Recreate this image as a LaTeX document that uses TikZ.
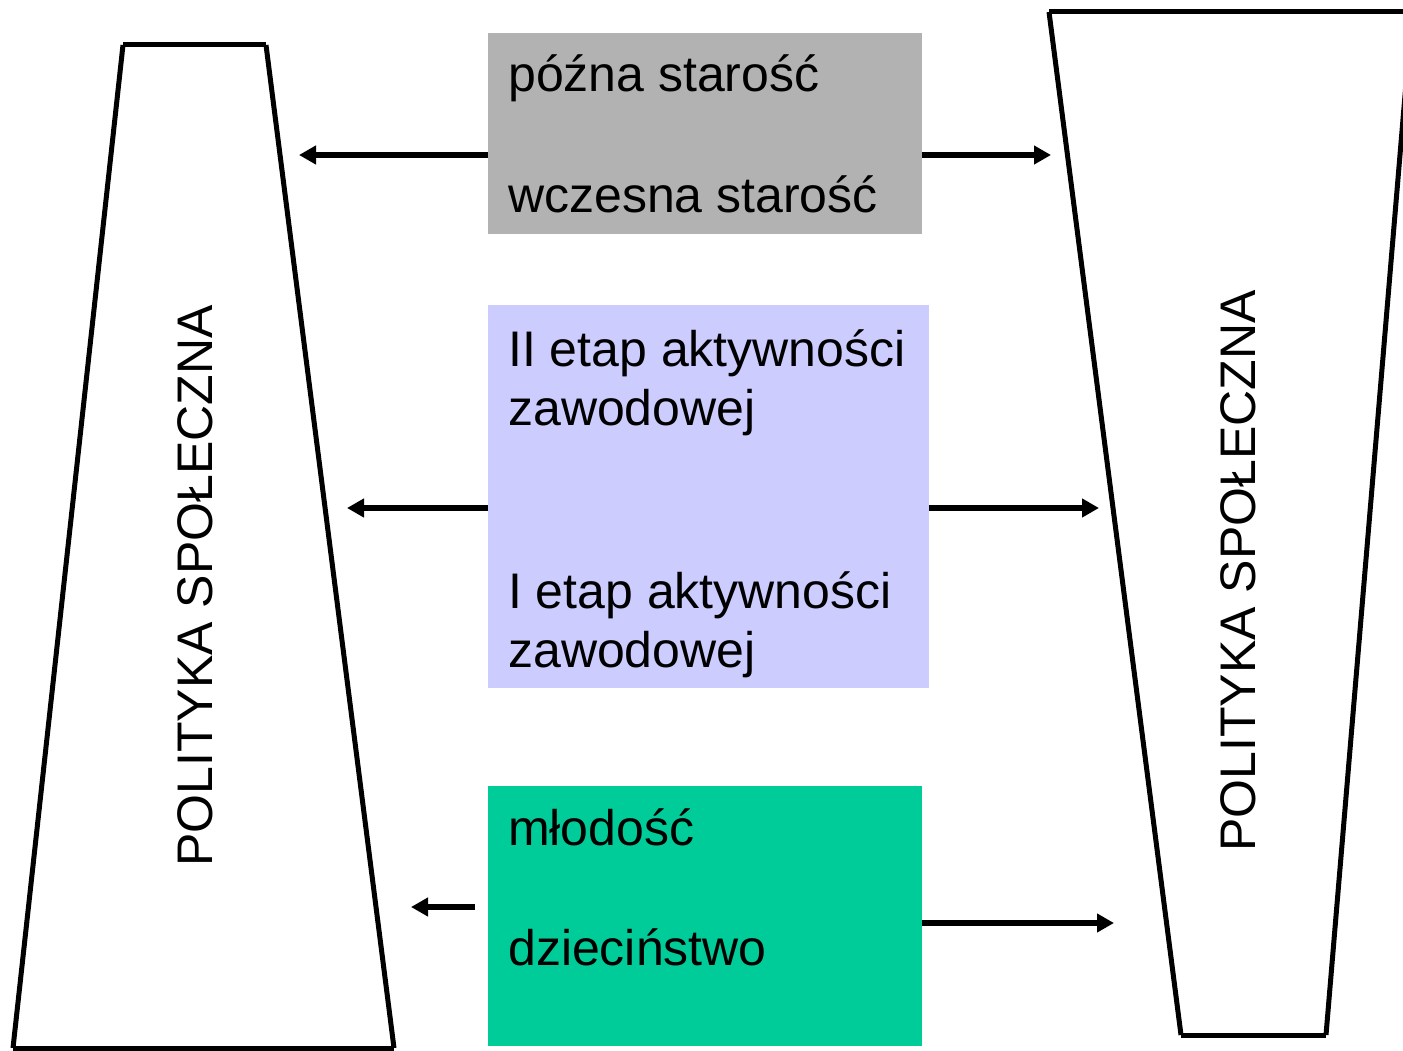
\documentclass[tikz,border=0pt]{standalone}
\usepackage{fontspec}
\setmainfont{Liberation Sans}
\usetikzlibrary{arrows.meta}
\definecolor{boxgray}{HTML}{B2B2B2}
\definecolor{boxlav}{HTML}{CCCCFF}
\definecolor{boxgreen}{HTML}{00CC99}
\begin{document}
\begin{tikzpicture}[x=1pt,y=-1pt,
  box/.style={anchor=north west,inner sep=0pt,outer sep=0pt},
  lbl/.style={anchor=base west,inner sep=0pt,font=\fontsize{50}{59}\selectfont},
  vlbl/.style={inner sep=0pt,rotate=90,font=\fontsize{50}{59}\selectfont},
  arr/.style={line width=5.5pt,-{Triangle[length=17pt,width=18pt]}},
  edge/.style={line width=5pt}]
\useasboundingbox (0,0) rectangle (1403,1051);
\clip (0,0) rectangle (1403,1051);
% boxes
\node[box,fill=boxgray,minimum width=434pt,minimum height=201pt] (gray) at (488,33) {};
\node[box,fill=boxlav,minimum width=441pt,minimum height=383pt] (lav) at (488,305) {};
\node[box,fill=boxgreen,minimum width=434pt,minimum height=260pt] (green) at (488,786) {};
% texts
\node[lbl] (t1) at (508,92) {późna starość};
\node[lbl] (t2) at (508,213) {wczesna starość};
\node[lbl,align=left,anchor=base west] (t3) at (508,366) {II etap aktywności};
\node[lbl] (t3b) at (508,425) {zawodowej};
\node[lbl] (t4) at (508,608) {I etap aktywności};
\node[lbl] (t4b) at (508,667) {zawodowej};
\node[lbl] (t5) at (508,845) {młodość};
\node[lbl] (t6) at (508,965) {dzieciństwo};
% left trapezoid
\coordinate (la) at (123,45);
\coordinate (lb) at (266,45);
\coordinate (lc) at (394,1048);
\coordinate (ld) at (13,1048);
\draw[edge] (la) -- (lb);
\draw[edge] (lb) -- (lc);
\draw[edge] (lc) -- (ld);
\draw[edge] (ld) -- (la);
% right trapezoid
\coordinate (ra) at (1049,12);
\coordinate (rb) at (1420,12);
\coordinate (rbb) at (1412,12);
\coordinate (rc) at (1326,1035);
\coordinate (rd) at (1181,1035);
\draw[edge] (ra) -- (rb);
\draw[edge] (rbb) -- (rc);
\draw[edge] (rc) -- (rd);
\draw[edge] (rd) -- (ra);
% vertical labels
\node[vlbl] (pl) at (195,586) {POLITYKA SPOŁECZNA};
\node[vlbl] (pr) at (1238,571) {POLITYKA SPOŁECZNA};
% arrows
\coordinate (g1) at (299,155);
\coordinate (g2) at (1051,155);
\coordinate (v1) at (347,508);
\coordinate (v2) at (1099,508);
\coordinate (m0) at (475,907);
\coordinate (m1) at (411,907);
\coordinate (m2) at (1114,923);
\draw[arr] (gray.west |- g1) -- (g1);
\draw[arr] (gray.east |- g2) -- (g2);
\draw[arr] (lav.west |- v1) -- (v1);
\draw[arr] (lav.east |- v2) -- (v2);
\draw[arr] (m0) -- (m1);
\draw[arr] (green.east |- m2) -- (m2);
\end{tikzpicture}
\end{document}
